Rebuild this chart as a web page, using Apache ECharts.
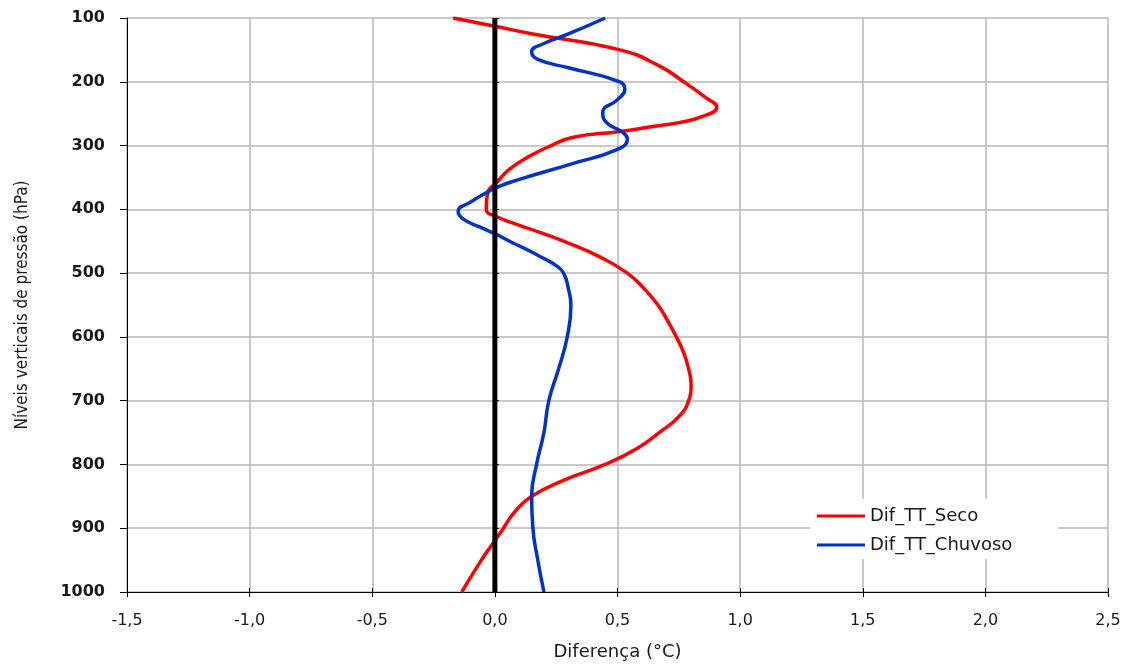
<!DOCTYPE html>
<html>
<head>
<meta charset="utf-8">
<script src="https://cdn.jsdelivr.net/npm/echarts@6/dist/echarts.min.js"></script>
<style>html,body{margin:0;padding:0;background:#fff;}#c{width:1132px;height:666px;}</style>
</head>
<body>
<div id="c"></div>
<script>
// Pressure levels (hPa) and temperature differences (°C)
const secoLevels = [100,113,125,150,175,200,225,240,254,264,270,278,287,300,317,337,357,375,400,412,425,437,450,475,500,525,550,575,600,625,650,675,700,725,750,775,800,825,850,875,900,925,950,1000];
const secoValues = [-0.17,0.0,0.155,0.51,0.67,0.77,0.86,0.905,0.85,0.75,0.645,0.51,0.32,0.23,0.14,0.06,0.01,-0.03,-0.035,0.01,0.10,0.19,0.28,0.43,0.54,0.61,0.665,0.705,0.74,0.77,0.79,0.80,0.79,0.75,0.67,0.58,0.45,0.28,0.15,0.08,0.035,-0.01,-0.055,-0.135];
const chuvosoLevels = [100,125,140,153,165,178,200,212,228,248,264,279,290,306,329,353,365,373,389,403,415,428,440,450,462,475,487,500,525,550,600,650,700,750,800,850,900,950,1000];
const chuvosoValues = [0.45,0.30,0.20,0.15,0.175,0.30,0.51,0.53,0.50,0.44,0.455,0.52,0.54,0.50,0.31,0.10,0.01,-0.03,-0.10,-0.15,-0.13,-0.06,0.01,0.06,0.125,0.19,0.245,0.28,0.30,0.31,0.295,0.26,0.22,0.20,0.17,0.15,0.155,0.175,0.20];
const zeroLine = [[0,100],[0,1000]];
const seriesNames = ['Dif_TT_Seco','Dif_TT_Chuvoso'];

const pair = (vals, levs) => vals.map((v,i)=>[v, levs[i]]);
const chart = echarts.init(document.getElementById('c'));
const baseFont = 'DejaVu Sans, Verdana, sans-serif';
chart.setOption({
  animation:false,
  backgroundColor:'#fff',
  grid:{left:127,right:24,top:18,bottom:71,containLabel:false},
  xAxis:[{
    type:'value',min:-1.5,max:2.5,interval:0.5,
    name:'Diferença (°C)',nameLocation:'middle',nameGap:51,
    nameTextStyle:{fontFamily:baseFont,fontSize:18,color:'#1a1a1a'},
    axisLine:{show:true,onZero:false,lineStyle:{color:'#000',width:1}},
    axisTick:{show:true,length:5,lineStyle:{color:'#000'}},
    axisLabel:{fontFamily:baseFont,fontSize:16,color:'#1a1a1a',margin:21,
      formatter:v=>v.toFixed(1).replace('.',',')},
    splitLine:{show:true,lineStyle:{color:'#b8b8b8',width:1.5}}
  },{
    type:'value',min:-1.5,max:2.5,interval:0.5,position:'bottom',
    axisLine:{show:false},
    axisTick:{show:true,inside:true,length:4,lineStyle:{color:'#000'}},
    axisLabel:{show:false},splitLine:{show:false}
  }],
  yAxis:[{
    type:'value',inverse:true,min:100,max:1000,interval:100,
    name:'Níveis verticais de pressão (hPa)',nameLocation:'middle',nameGap:96,nameRotate:90,
    nameTextStyle:{fontFamily:'Liberation Sans Narrow, DejaVu Sans Condensed, sans-serif',fontSize:17,color:'#1a1a1a'},
    axisLine:{show:true,onZero:false,lineStyle:{color:'#000',width:1}},
    axisTick:{show:true,length:7,lineStyle:{color:'#000'}},
    axisLabel:{fontFamily:baseFont,fontSize:16,fontWeight:'bold',color:'#1a1a1a',margin:22,
      formatter:v=>String(v)},
    splitLine:{show:true,lineStyle:{color:'#b8b8b8',width:1.5}}
  },{
    type:'value',inverse:true,min:100,max:1000,interval:100,position:'left',
    axisLine:{show:false},
    axisTick:{show:true,inside:true,length:4,lineStyle:{color:'#000'}},
    axisLabel:{show:false},splitLine:{show:false}
  }],
  legend:{
    orient:'vertical',left:810,top:499,
    backgroundColor:'#fff',padding:[8,46,5,7],itemGap:11,
    itemWidth:48,itemHeight:3,icon:'rect',
    textStyle:{fontFamily:baseFont,fontSize:18,color:'#1a1a1a'},
    data:seriesNames
  },
  series:[
    {type:'line',name:seriesNames[0],data:pair(secoValues,secoLevels),symbol:'none',smooth:0.5,z:3,
     itemStyle:{color:'#ff0000'},lineStyle:{color:'#ff0000',width:3.5}},
    {type:'line',name:seriesNames[1],data:pair(chuvosoValues,chuvosoLevels),symbol:'none',smooth:0.5,z:3,
     itemStyle:{color:'#0033cc'},lineStyle:{color:'#0033cc',width:3.5}},
    {type:'line',name:'zero',data:zeroLine,symbol:'none',silent:true,z:4,
     lineStyle:{color:'#000',width:5}}
  ]
});
</script>
</body>
</html>
